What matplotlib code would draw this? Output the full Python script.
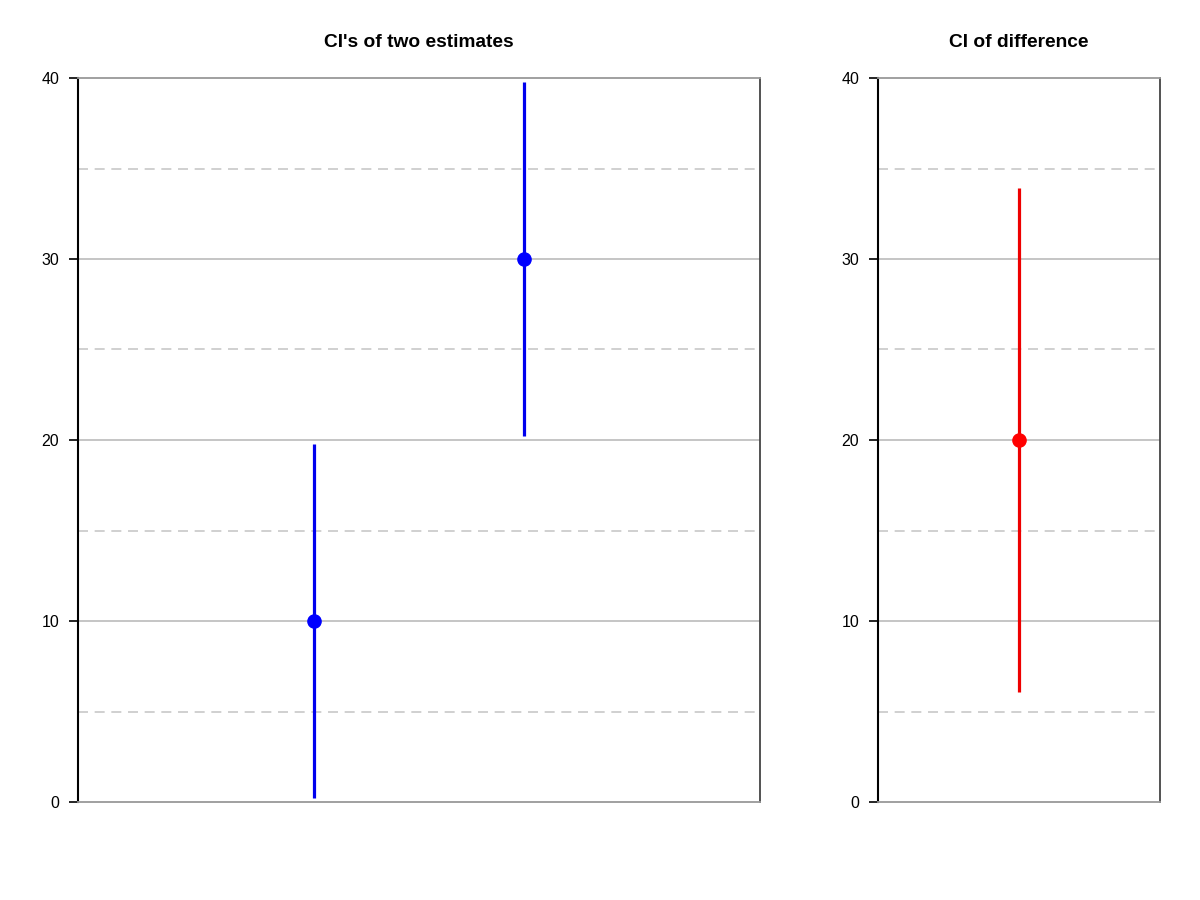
import matplotlib
matplotlib.use("Agg")
import matplotlib.pyplot as plt

plt.rcParams['font.family'] = ['Liberation Sans', 'DejaVu Sans']

# two estimates and their CIs
est_x = [1, 2]
est_mid = [10, 30]
est_lo = [0.2, 20.2]
est_hi = [19.8, 39.8]

# difference and its CI
diff_mid = [20]
diff_lo = [6.1]
diff_hi = [33.9]

titles = ["CI's of two estimates", "CI of difference"]
yticks = [0, 10, 20, 30, 40]
minor_y = [5, 15, 25, 35]

fig = plt.figure(figsize=(12, 9), dpi=100)
ax1 = fig.add_axes([78/1200, 98/900, 682/1200, 724/900])
ax2 = fig.add_axes([878/1200, 98/900, 282/1200, 724/900])


def style(ax, title):
    ax.set_ylim(0, 40)
    ax.set_yticks(yticks)
    ax.set_xticks([])
    for y in yticks[1:-1]:
        ax.axhline(y, color="#bbbbbb", lw=1.2, zorder=1)
    for y in minor_y:
        ax.axhline(y, color="#c8c8c8", lw=1.2, ls=(0, (6, 4)), zorder=1)
    ax.spines["left"].set_color("black")
    ax.spines["left"].set_linewidth(1.5)
    ax.spines["top"].set_color("#999999")
    ax.spines["bottom"].set_color("#999999")
    ax.spines["right"].set_color("#444444")
    for s in ["top", "bottom", "right"]:
        ax.spines[s].set_linewidth(1.3)
    ax.tick_params(axis="y", length=6.5, width=1.2, pad=7, labelsize=11.5)
    ax.set_title(title, fontsize=13.8, fontweight="bold", pad=22)


style(ax1, titles[0])
ax1.set_xlim(-0.125, 3.125)
ax1.vlines(est_x, est_lo, est_hi, color="#0000ee", lw=2.3, zorder=3)
ax1.plot(est_x, est_mid, "o", color="blue", ms=9.5, zorder=4)

style(ax2, titles[1])
ax2.set_xlim(0, 2)
ax2.vlines([1], diff_lo, diff_hi, color="#ee0000", lw=2.3, zorder=3)
ax2.plot([1], diff_mid, "o", color="red", ms=9.5, zorder=4)

fig.savefig("out.png", dpi=100)
